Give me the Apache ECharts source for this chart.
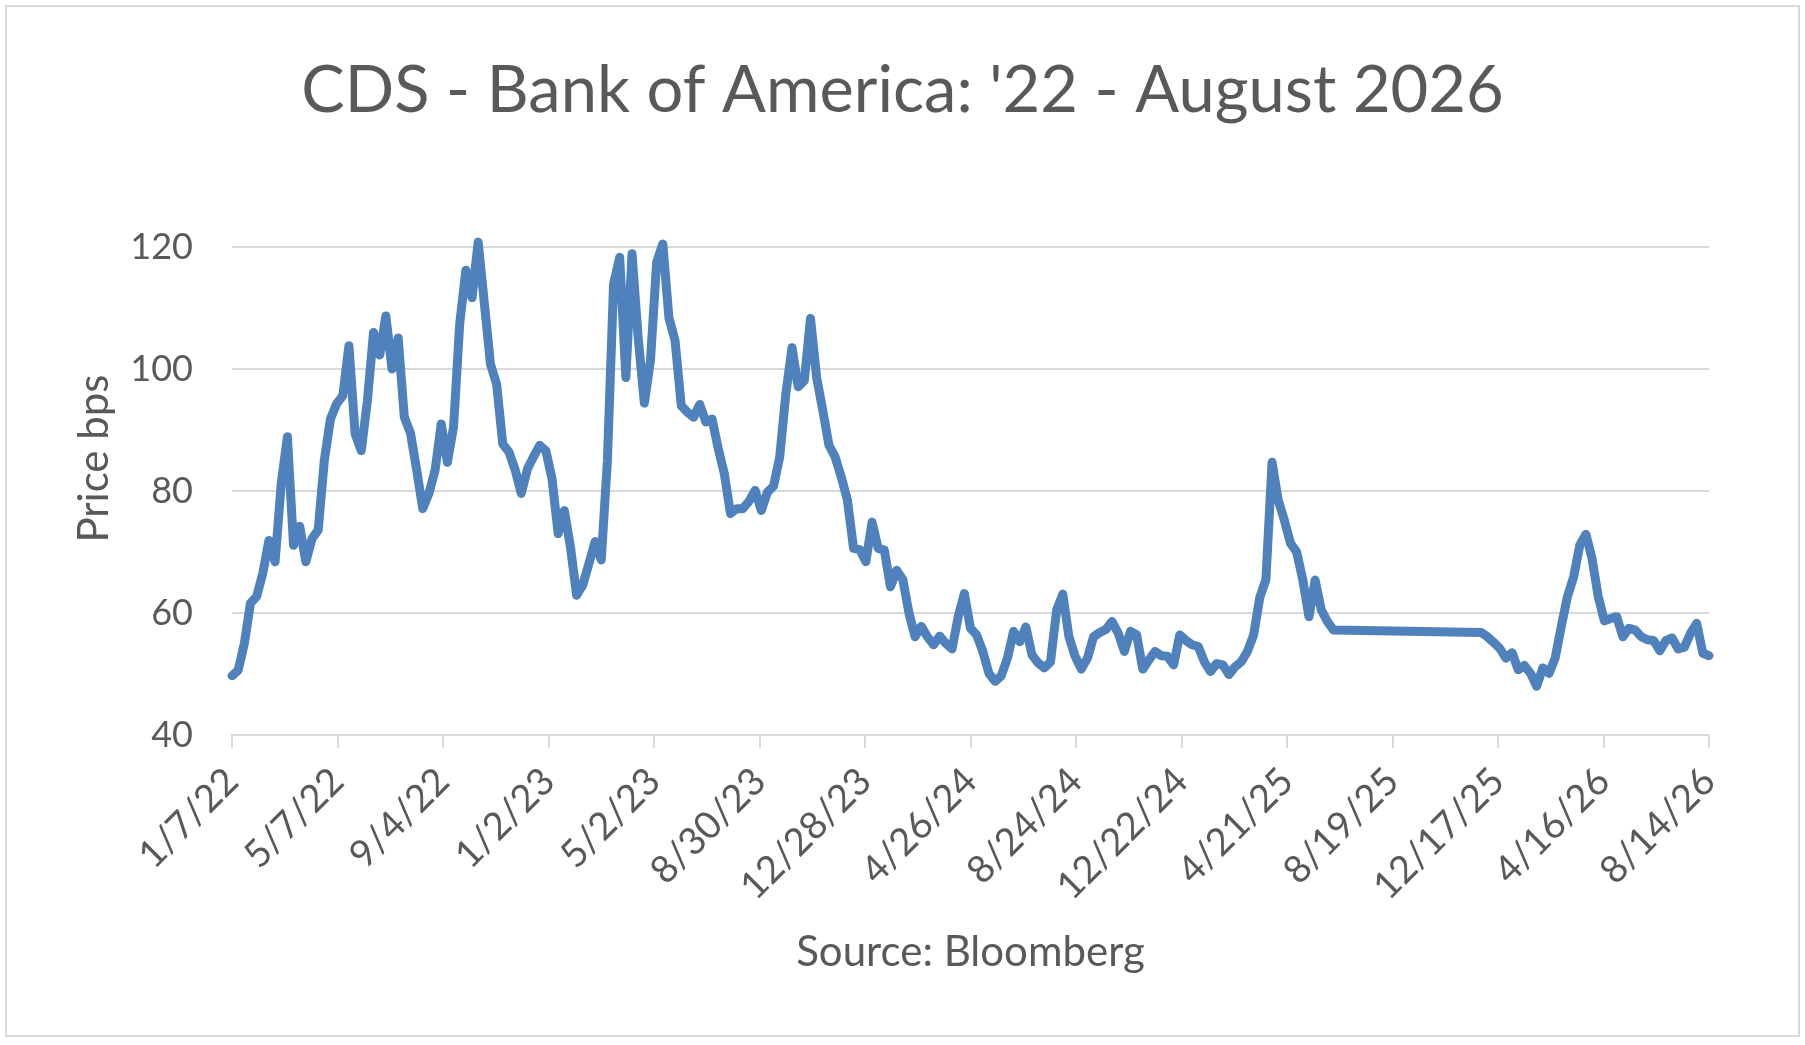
<!DOCTYPE html>
<html>
  <head>
    <meta charset="utf-8">
    <title>CDS - Bank of America</title>
    <script src="https://cdn.jsdelivr.net/npm/echarts@6/dist/echarts.min.js"></script>
    <style>
    html, body { margin: 0; padding: 0; background: #fff; }
    #chart { width: 1805px; height: 1045px; }
    </style>
  </head>
  <body>
    <div id="chart"></div>
    <script type="text/javascript">
      // weekly CDS quotes, first week = 1/7/22
      var startDate = Date.UTC(2022, 0, 7);
      var tickDays = 120;
      var axisEndDays = 1680;
      var yTicks = [40, 60, 80, 100, 120];

      // weeks 0 - 179
      var cdsPartA = [
        49.7, 50.6, 55.0, 61.6, 62.7, 66.5, 71.9, 68.4, 81.2, 88.9,
        71.1, 74.2, 68.4, 72.2, 73.6, 85.0, 91.8, 94.3, 95.6, 103.8,
        89.4, 86.6, 94.8, 106.0, 102.3, 108.7, 100.0, 105.1, 92.1, 89.5,
        83.5, 77.1, 79.6, 83.4, 91.0, 84.7, 90.5, 107.4, 116.2, 111.7,
        120.8, 110.8, 100.8, 97.5, 87.7, 86.4, 83.5, 79.6, 83.6, 85.6,
        87.5, 86.6, 82.0, 73.0, 76.8, 70.8, 62.9, 64.6, 68.1, 71.7,
        68.7, 85.0, 113.9, 118.3, 98.6, 118.9, 105.2, 94.4, 101.4, 117.5,
        120.5, 108.4, 104.6, 94.0, 92.9, 92.1, 94.2, 91.3, 91.8, 87.0,
        82.8, 76.3, 77.1, 77.1, 78.3, 80.1, 76.8, 79.8, 80.8, 85.6,
        96.0, 103.5, 97.1, 98.1, 108.3, 98.6, 93.2, 87.5, 85.6, 82.3,
        78.5, 70.6, 70.4, 68.4, 74.9, 70.6, 70.3, 64.3, 67.0, 65.5,
        60.0, 56.1, 57.8, 56.1, 54.8, 56.2, 55.0, 54.1, 59.4, 63.2,
        57.5, 56.4, 53.7, 50.1, 48.8, 49.7, 52.6, 57.0, 55.3, 57.7,
        53.1, 51.8, 51.0, 52.0, 60.5, 63.1, 56.1, 52.9, 50.8, 52.6,
        56.1, 56.8, 57.3, 58.6, 56.7, 53.7, 57.0, 56.4, 50.8, 52.3,
        53.7, 53.0, 52.9, 51.5, 56.4, 55.5, 54.8, 54.5, 52.0, 50.4,
        51.7, 51.5, 49.9, 51.2, 52.0, 53.7, 56.4, 62.5, 65.5, 84.7,
        78.5, 75.2, 71.4, 70.0, 65.4, 59.4, 65.4, 60.5, 58.6, 57.2
      ];

      // no quotes in between, data resumes at week 203
      var resumeWeek = 203;
      var cdsPartB = [
        56.8, 56.1, 55.2, 54.2, 52.6, 53.5, 50.7, 51.4, 50.1, 48.0,
        51.0, 50.1, 52.6, 57.8, 62.7, 65.9, 71.1, 72.9, 68.9, 62.7,
        58.7, 59.1, 59.4, 56.1, 57.5, 57.2, 56.1, 55.6, 55.5, 53.8,
        55.5, 55.9, 54.1, 54.4, 56.7, 58.3, 53.4, 53.0
      ];

      var points = cdsPartA.map(function (v, i) { return [i * 7, v]; })
        .concat(cdsPartB.map(function (v, i) { return [(resumeWeek + i) * 7, v]; }));

      function dayLabel(d) {
        var dt = new Date(startDate + d * 86400000);
        return (dt.getUTCMonth() + 1) + '/' + dt.getUTCDate() + '/' + String(dt.getUTCFullYear()).slice(2);
      }

      var font = 'Lato, "Open Sans", sans-serif';
      var grey = '#595959';
      var chart = echarts.init(document.getElementById('chart'));

      var option = {
        backgroundColor: '#fff',
        animation: false,
        title: {
          text: "CDS - Bank of America: '22 - August 2026",
          left: 'center',
          top: 54,
          textStyle: { fontFamily: font, fontSize: 65, fontWeight: 'normal', color: grey }
        },
        graphic: [{
          type: 'rect',
          shape: { x: 6, y: 6, width: 1793, height: 1030 },
          style: { fill: 'none', stroke: '#d9d9d9', lineWidth: 2 }
        }],
        grid: { left: 232, right: 96, top: 247, bottom: 310 },
        xAxis: {
          type: 'value',
          min: 0,
          max: axisEndDays,
          interval: tickDays,
          name: 'Source: Bloomberg',
          nameLocation: 'middle',
          nameGap: 196,
          nameTextStyle: { fontFamily: font, fontSize: 42, color: grey },
          axisLine: { show: true, lineStyle: { color: '#d9d9d9', width: 2 } },
          axisTick: { show: true, length: 13, lineStyle: { color: '#d9d9d9', width: 2 } },
          splitLine: { show: false },
          axisLabel: {
            rotate: 45,
            margin: 40,
            fontFamily: font,
            fontSize: 38,
            color: grey,
            showMinLabel: true,
            showMaxLabel: true,
            formatter: dayLabel
          }
        },
        yAxis: {
          type: 'value',
          min: yTicks[0],
          max: yTicks[yTicks.length - 1],
          interval: 20,
          name: 'Price bps',
          nameLocation: 'middle',
          nameRotate: 90,
          nameGap: 117,
          nameTextStyle: { fontFamily: font, fontSize: 42, color: grey, padding: [0, 0, 0, 65] },
          axisLine: { show: false },
          axisTick: { show: false },
          splitLine: { lineStyle: { color: '#d9d9d9', width: 2 } },
          axisLabel: { margin: 39, fontFamily: font, fontSize: 36, color: grey }
        },
        series: [{
          type: 'line',
          data: points,
          symbol: 'none',
          clip: false,
          lineStyle: { color: '#4f81bd', width: 9, cap: 'round', join: 'round' }
        }]
      };
      chart.setOption(option);
    </script>
  </body>
</html>
